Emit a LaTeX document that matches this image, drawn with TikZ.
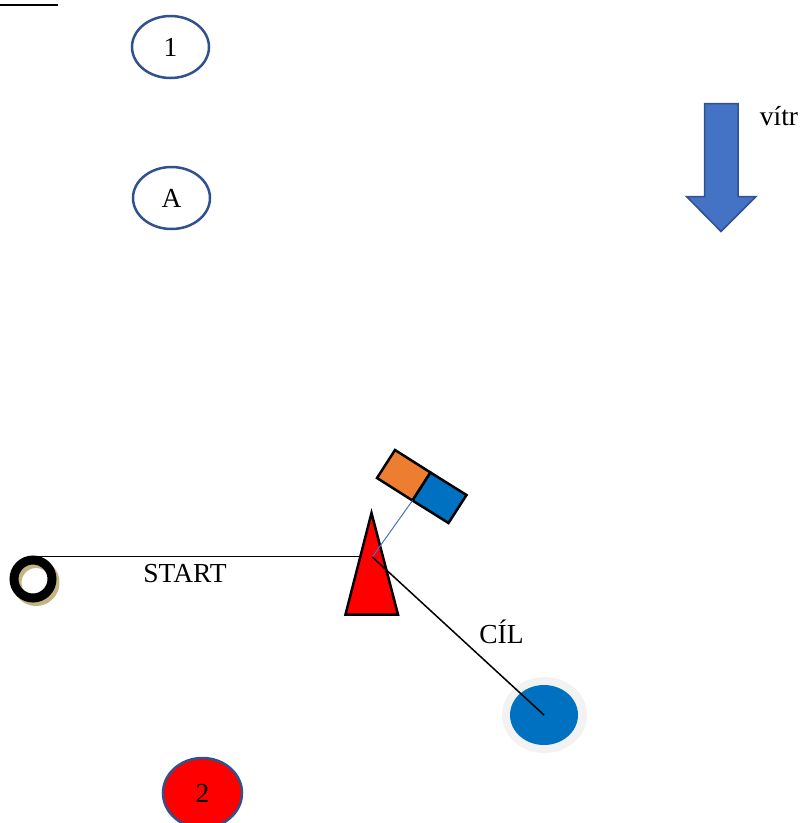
\documentclass[tikz,border=0pt]{standalone}
\usepackage{fontspec}
\setmainfont{Liberation Serif}
\usetikzlibrary{shapes.geometric}
\definecolor{edgeblue}{RGB}{47,82,143}
\definecolor{windblue}{RGB}{68,114,196}
\definecolor{targetblue}{RGB}{0,112,192}
\definecolor{halogray}{RGB}{242,242,242}
\definecolor{boxorange}{RGB}{237,125,49}
\definecolor{ringshadow}{RGB}{196,180,132}
\tikzset{
  lbl/.style={inner sep=0pt, font=\fontsize{27.5}{33}\selectfont},
  mark ellipse/.style={ellipse, draw=edgeblue, line width=2.5pt, inner sep=0pt,
    minimum width=77pt, minimum height=62pt, font=\fontsize{27.5}{33}\selectfont},
  outlined/.style={draw=black, line width=2.5pt, line join=miter},
}
\begin{document}
\begin{tikzpicture}[x=1pt,y=-1pt]
\useasboundingbox (0,0) rectangle (804,823);
% top-left bar
\draw[line width=2.6pt] (0,5) -- (58,5);
% buoys 1 and A
\node[mark ellipse, fill=white] (b1) at (170.5,47) {1};
\node[mark ellipse, fill=white] (bA) at (171.5,198) {A};
% wind arrow
\filldraw[fill=windblue, draw=edgeblue, line width=1.5pt, line join=miter]
  (704.5,103.5) -- (738,103.5) -- (738,196.5) -- (756,196.5) -- (721,231.5)
  -- (686.5,196.5) -- (704.5,196.5) -- cycle;
\node[lbl, anchor=base] (wind) at (779,125) {vítr};
% target
\node[ellipse, fill=halogray, minimum width=85pt, minimum height=76pt, inner sep=0pt] (halo) at (544.5,715) {};
\node[ellipse, fill=targetblue, minimum width=68pt, minimum height=60pt, inner sep=0pt] (target) at (544,715) {};
% start line
\coordinate (pivot) at (372.3,557);
\coordinate (ringtop) at (33,556.5);
\draw[line width=1.2pt] (ringtop) -- (pivot |- ringtop);
% start ring with shadow
\draw[ringshadow, line width=9pt] (36,582.5) circle (19);
\draw[black, line width=9pt] (33,579) circle (19);
\node[circle, inner sep=0pt, minimum size=47pt] (ring) at (33,579) {};
\node[lbl, anchor=base] (start) at (185,582.7) {START};
% triangle mark
\filldraw[fill=red, outlined] (371.5,513) -- (398,614.5) -- (345.5,614.5) -- cycle;
\coordinate (tri) at (371.5,560);
% committee boat (rotated rectangle)
\coordinate (rA) at (395,450);
\coordinate (rB) at (377,478);
\coordinate (rC) at (448.5,523);
\coordinate (rD) at (466.5,495);
\coordinate (rM1) at (430.5,472.5);
\coordinate (rM2) at (412.5,500.5);
\filldraw[fill=boxorange, outlined] (rA) -- (rM1) -- (rM2) -- (rB) -- cycle;
\filldraw[fill=targetblue, outlined] (rM1) -- (rD) -- (rC) -- (rM2) -- cycle;
% connectors
\draw[windblue, line width=1pt] (pivot) -- (rM2);
\draw[line width=1.5pt] (pivot) -- (target.center);
\node[lbl, anchor=base] (finish) at (501.5,643) {CÍL};
% red buoy 2
\node[mark ellipse, fill=red, minimum width=79pt, minimum height=70pt] (b2) at (202.5,793) {2};
\end{tikzpicture}
\end{document}
